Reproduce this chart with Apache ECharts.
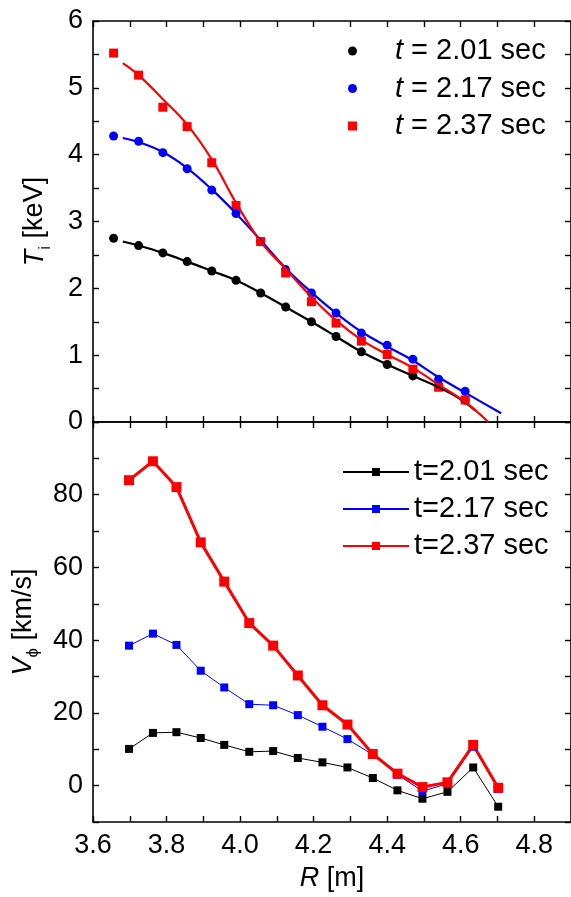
<!DOCTYPE html>
<html>
<head>
<meta charset="utf-8">
<script src="https://cdn.jsdelivr.net/npm/echarts@6/dist/echarts.min.js"></script>
<style>
html,body{margin:0;padding:0;background:#fff;}
#chart{width:571px;height:897px;}
</style>
</head>
<body>
<div id="chart"></div>
<script>
// ---- Upper panel: ion temperature T_i [keV] ----
var tiR = [3.656, 3.724, 3.790, 3.856, 3.923, 3.989, 4.056, 4.124, 4.194, 4.261, 4.330, 4.400, 4.470, 4.540, 4.612];
var ti201 = [2.75, 2.64, 2.53, 2.40, 2.26, 2.12, 1.93, 1.72, 1.50, 1.28, 1.05, 0.86, 0.69, 0.54, 0.33];
var ti217 = [4.28, 4.20, 4.03, 3.79, 3.47, 3.12, 2.70, 2.28, 1.93, 1.63, 1.33, 1.15, 0.94, 0.64, 0.46];
var ti237 = [5.52, 5.19, 4.71, 4.42, 3.88, 3.24, 2.70, 2.23, 1.80, 1.48, 1.21, 1.01, 0.79, 0.52, 0.33];

// fitted curves
var fitR201 = [3.681, 3.724, 3.790, 3.856, 3.923, 3.989, 4.056, 4.124, 4.194, 4.261, 4.330, 4.400, 4.470, 4.540, 4.600, 4.640];
var fit201  = [2.70, 2.64, 2.53, 2.40, 2.26, 2.12, 1.93, 1.72, 1.50, 1.28, 1.05, 0.86, 0.69, 0.52, 0.34, 0.17];
var fitR217 = [3.681, 3.724, 3.790, 3.856, 3.923, 3.989, 4.056, 4.124, 4.194, 4.261, 4.330, 4.400, 4.470, 4.540, 4.612, 4.710];
var fit217  = [4.25, 4.19, 4.04, 3.80, 3.48, 3.12, 2.72, 2.30, 1.94, 1.63, 1.35, 1.13, 0.92, 0.67, 0.44, 0.13];
var fitR237 = [3.681, 3.724, 3.790, 3.856, 3.923, 3.989, 4.056, 4.124, 4.194, 4.261, 4.330, 4.400, 4.470, 4.540, 4.612, 4.675];
var fit237  = [5.37, 5.19, 4.83, 4.45, 3.93, 3.28, 2.70, 2.29, 1.87, 1.52, 1.23, 1.01, 0.81, 0.56, 0.30, 0.00];

// ---- Lower panel: toroidal rotation V_phi [km/s] ----
var vR = [3.698, 3.763, 3.827, 3.893, 3.957, 4.025, 4.090, 4.157, 4.224, 4.292, 4.361, 4.428, 4.496, 4.564, 4.634, 4.702];
var v201 = [10.1, 14.5, 14.7, 13.1, 11.2, 9.3, 9.5, 7.6, 6.4, 5.0, 2.1, -1.3, -3.6, -1.7, 5.0, -5.8];
var v217 = [38.5, 41.8, 38.7, 31.6, 27.0, 22.4, 22.1, 19.4, 16.2, 12.8, 8.5, 3.0, -1.5, 0.5, 10.7, -0.9];
var v237 = [84.0, 89.2, 82.1, 66.9, 56.1, 44.7, 38.5, 30.3, 22.1, 16.8, 8.7, 3.3, -0.4, 0.9, 11.2, -0.6];

var upperNames = ['t = 2.01 sec', 't = 2.17 sec', 't = 2.37 sec'];
var lowerNames = ['t=2.01 sec', 't=2.17 sec', 't=2.37 sec'];
var xTickLabels = ['3.6', '3.8', '4.0', '4.2', '4.4', '4.6', '4.8'];
var tiTickLabels = ['0', '1', '2', '3', '4', '5', '6'];
var vTickLabels = ['0', '20', '40', '60', '80'];

function zip(xs, ys) { return xs.map(function (x, i) { return [x, ys[i]]; }); }

var FONT = '"Liberation Sans", Arial, sans-serif';
var FS = 27;     // tick labels and axis titles
var LFS = 29;    // legend text
var BLACK = '#000000', BLUE = '#0000ff', RED = '#ff0000';

var axisLine = { show: true, onZero: false, lineStyle: { color: '#000', width: 1.6 } };
var tick = { show: true, inside: true, length: 6, lineStyle: { color: '#000', width: 1.4 } };

function xAxisDef(grid, pos, labels) {
  return {
    type: 'value', gridIndex: grid, position: pos, min: 3.6, max: 4.9, interval: 0.1,
    axisLine: axisLine, axisTick: tick, splitLine: { show: false },
    axisLabel: {
      show: labels, margin: 10, color: '#000', fontSize: FS, fontFamily: FONT,
      showMaxLabel: false,
      formatter: function (v) {
        var s = (Math.round(v * 10) / 10).toFixed(1);
        return xTickLabels.indexOf(s) >= 0 ? s : '';
      }
    },
    name: labels ? '{it|R} [m]' : '',
    nameLocation: 'middle', nameGap: 43,
    nameTextStyle: { color: '#000', fontSize: FS, fontFamily: FONT, rich: { it: { fontStyle: 'italic', fontSize: FS, fontFamily: FONT, color: '#000' } } }
  };
}

function yTitleStyle() {
  return { color: '#000', fontSize: FS, fontFamily: FONT, lineHeight: 30,
    rich: { it: { fontStyle: 'italic', fontSize: FS, fontFamily: FONT, color: '#000', lineHeight: 30 },
            sub: { fontSize: 17, fontFamily: FONT, color: '#000', verticalAlign: 'bottom', lineHeight: 30, padding: [0, 0, -4, 0] } } };
}

var option = {
  backgroundColor: '#fff',
  animation: false,
  textStyle: { fontFamily: FONT },
  grid: [
    { left: 93, top: 21, right: -3, height: 401 },
    { left: 93, top: 422, right: -3, height: 400 }
  ],
  xAxis: [
    xAxisDef(0, 'bottom', false),
    xAxisDef(0, 'top', false),
    xAxisDef(1, 'bottom', true),
    xAxisDef(1, 'top', false)
  ],
  yAxis: [
    {
      type: 'value', gridIndex: 0, position: 'left', min: 0, max: 6, interval: 0.5,
      axisLine: axisLine, axisTick: tick, splitLine: { show: false },
      axisLabel: {
        margin: 10, color: '#000', fontSize: FS, fontFamily: FONT,
        formatter: function (v) { var s = String(v); return tiTickLabels.indexOf(s) >= 0 ? s : ''; }
      },
      name: '{it|T}{sub|i} [keV]', nameLocation: 'middle', nameGap: 43, nameRotate: 90,
      nameTextStyle: yTitleStyle()
    },
    {
      type: 'value', gridIndex: 0, position: 'right', min: 0, max: 6, interval: 0.5,
      axisLine: axisLine, axisTick: tick, splitLine: { show: false }, axisLabel: { show: false }
    },
    {
      type: 'value', gridIndex: 1, position: 'left', min: -10, max: 100, interval: 10,
      axisLine: axisLine, axisTick: tick, splitLine: { show: false },
      axisLabel: {
        margin: 10, color: '#000', fontSize: FS, fontFamily: FONT,
        formatter: function (v) { var s = String(Math.round(v)); return vTickLabels.indexOf(s) >= 0 ? s : ''; }
      },
      name: '{it|V}{sub|\u03D5} [km/s]', nameLocation: 'middle', nameGap: 43, nameRotate: 90,
      nameTextStyle: yTitleStyle()
    },
    {
      type: 'value', gridIndex: 1, position: 'right', min: -10, max: 100, interval: 10,
      axisLine: axisLine, axisTick: tick, splitLine: { show: false }, axisLabel: { show: false }
    }
  ],
  legend: [
    {
      orient: 'vertical', left: 348, top: 36, padding: 0, itemWidth: 9, itemHeight: 9, itemGap: 7.5,
      data: upperNames,
      textStyle: { color: '#000', fontSize: LFS, fontFamily: FONT, lineHeight: 30, padding: [0, 0, 0, 33],
        rich: { i: { fontStyle: 'italic', fontSize: LFS, fontFamily: FONT, color: '#000', lineHeight: 30 } } },
      formatter: function (n) { return '{i|t}' + n.slice(1); }
    },
    {
      orient: 'vertical', left: 342, top: 457, padding: 0, itemWidth: 66, itemHeight: 10, itemGap: 7,
      data: lowerNames,
      textStyle: { color: '#000', fontSize: LFS, fontFamily: FONT, lineHeight: 30 }
    }
  ],
  series: [
    { name: 'fit201', type: 'line', xAxisIndex: 0, yAxisIndex: 0, data: zip(fitR201, fit201), smooth: 0.4, showSymbol: false, silent: true, lineStyle: { color: BLACK, width: 2.2 }, itemStyle: { color: BLACK } },
    { name: 'fit217', type: 'line', xAxisIndex: 0, yAxisIndex: 0, data: zip(fitR217, fit217), smooth: 0.4, showSymbol: false, silent: true, lineStyle: { color: BLUE, width: 2.2 }, itemStyle: { color: BLUE } },
    { name: 'fit237', type: 'line', xAxisIndex: 0, yAxisIndex: 0, data: zip(fitR237, fit237), smooth: 0.4, showSymbol: false, silent: true, lineStyle: { color: RED, width: 2.2 }, itemStyle: { color: RED } },
    { name: upperNames[0], type: 'scatter', xAxisIndex: 0, yAxisIndex: 0, data: zip(tiR, ti201), symbol: 'circle', symbolSize: 9, itemStyle: { color: BLACK, opacity: 1 } },
    { name: upperNames[1], type: 'scatter', xAxisIndex: 0, yAxisIndex: 0, data: zip(tiR, ti217), symbol: 'circle', symbolSize: 9, itemStyle: { color: BLUE, opacity: 1 } },
    { name: upperNames[2], type: 'scatter', xAxisIndex: 0, yAxisIndex: 0, data: zip(tiR, ti237), symbol: 'rect', symbolSize: 9, itemStyle: { color: RED, opacity: 1 } },
    { name: lowerNames[0], type: 'line', xAxisIndex: 2, yAxisIndex: 2, data: zip(vR, v201), symbol: 'rect', symbolSize: 8, showAllSymbol: true, lineStyle: { color: BLACK, width: 1 }, itemStyle: { color: BLACK } },
    { name: lowerNames[1], type: 'line', xAxisIndex: 2, yAxisIndex: 2, data: zip(vR, v217), symbol: 'rect', symbolSize: 8, showAllSymbol: true, lineStyle: { color: BLUE, width: 1 }, itemStyle: { color: BLUE } },
    { name: lowerNames[2], type: 'line', xAxisIndex: 2, yAxisIndex: 2, data: zip(vR, v237), symbol: 'rect', symbolSize: 10, showAllSymbol: true, lineStyle: { color: RED, width: 3 }, itemStyle: { color: RED } }
  ]
};

var chart = echarts.init(document.getElementById('chart'), null, { renderer: 'canvas' });
chart.setOption(option);
</script>
</body>
</html>
